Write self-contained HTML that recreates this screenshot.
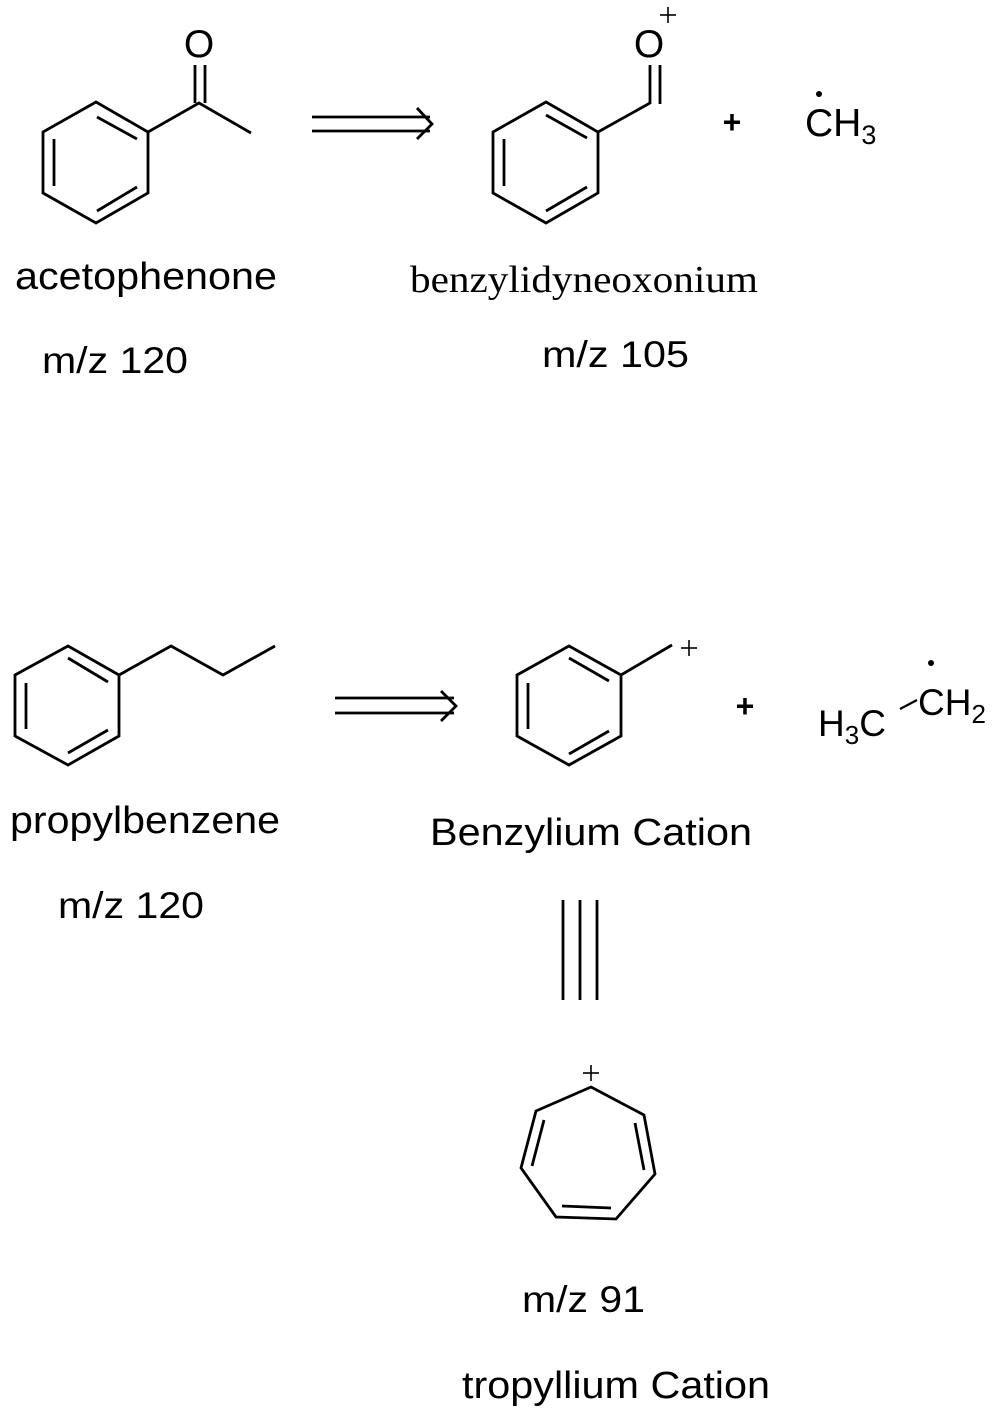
<!DOCTYPE html>
<html><head><meta charset="utf-8"><style>
html,body{margin:0;padding:0;background:#fff;}
svg{display:block;}
text{font-family:"Liberation Sans",Arial,sans-serif;fill:#000;}
</style></head><body>
<svg width="1004" height="1420" viewBox="0 0 1004 1420" xmlns="http://www.w3.org/2000/svg">
<g stroke="#000" stroke-width="2.8" fill="none" stroke-linejoin="miter" stroke-linecap="butt">
<polygon points="96,102 148,132 148,193 96,223 43,193 43,132"/>
<line x1="97" y1="117" x2="137" y2="139"/>
<line x1="54" y1="139" x2="54" y2="186"/>
<line x1="97" y1="211" x2="137" y2="187"/>
<polyline points="148,132 199,103 251,133"/>
<line x1="195" y1="65" x2="195" y2="103"/>
<line x1="205" y1="65" x2="205" y2="103"/>
<line x1="312" y1="117" x2="430" y2="117"/>
<line x1="312" y1="131" x2="430" y2="131"/>
<polyline points="417,108 432,124 417,139"/>
<polygon points="546,102 598,132 598,193 546,223 493,193 493,132"/>
<line x1="546" y1="115" x2="587" y2="138"/>
<line x1="504" y1="139" x2="504" y2="186"/>
<line x1="546" y1="211" x2="587" y2="187"/>
<line x1="598" y1="132" x2="650" y2="103"/>
<line x1="650" y1="65" x2="650" y2="104"/>
<line x1="660" y1="65" x2="660" y2="104"/>
<polygon points="68,646 119,675 119,736 68,765 15,736 15,675"/>
<line x1="68" y1="658" x2="108" y2="682"/>
<line x1="26" y1="683" x2="26" y2="729"/>
<line x1="68" y1="753" x2="108" y2="730"/>
<polyline points="119,675 171,646 223,675 275,646"/>
<line x1="335" y1="698" x2="454" y2="698"/>
<line x1="335" y1="713" x2="454" y2="713"/>
<polyline points="441,691 456,706 441,721"/>
<polygon points="569,646 621,675 621,736 569,765 517,736 517,675"/>
<line x1="569" y1="658" x2="609" y2="681"/>
<line x1="528" y1="683" x2="528" y2="729"/>
<line x1="569" y1="754" x2="609" y2="731"/>
<line x1="621" y1="675" x2="672" y2="645"/>
<line x1="900" y1="709" x2="917" y2="700" stroke-width="2.2"/>
<line x1="563" y1="900" x2="563" y2="1000"/>
<line x1="580" y1="900" x2="580" y2="1000"/>
<line x1="597" y1="900" x2="597" y2="1000"/>
<polygon points="591,1087 644,1115 655,1174 616,1219 556,1217 521,1168 536,1111"/>
<line x1="544" y1="1120" x2="532" y2="1166"/>
<line x1="635" y1="1123" x2="644" y2="1170"/>
<line x1="562" y1="1206" x2="611" y2="1208"/>
<g stroke-width="1.6">
<line x1="660" y1="15" x2="676" y2="15"/><line x1="668" y1="7" x2="668" y2="23"/>
<line x1="681" y1="648" x2="697" y2="648"/><line x1="689" y1="640" x2="689" y2="656"/>
<line x1="583" y1="1073" x2="599" y2="1073"/><line x1="591" y1="1065" x2="591" y2="1081"/>
</g>
</g>
<circle cx="819" cy="94" r="3"/>
<circle cx="931" cy="663" r="3"/>
<text x="199" y="57" font-size="39" text-anchor="middle">O</text>
<text x="649" y="57" font-size="39" text-anchor="middle">O</text>
<text x="732" y="133" font-size="32" font-weight="bold" text-anchor="middle">+</text>
<text x="805" y="136" font-size="39">CH<tspan font-size="27" dy="8">3</tspan></text>
<text x="745" y="717" font-size="32" font-weight="bold" text-anchor="middle">+</text>
<text x="818" y="736" font-size="37">H<tspan font-size="26" dy="8">3</tspan><tspan dy="-8">C</tspan></text>
<text x="918" y="715" font-size="37">CH<tspan font-size="26" dy="8">2</tspan></text>
<text x="15" y="289" font-size="38" textLength="262" lengthAdjust="spacingAndGlyphs">acetophenone</text>
<text x="410" y="292" font-size="38" textLength="348" lengthAdjust="spacingAndGlyphs" style="font-family:'Liberation Serif',serif">benzylidyneoxonium</text>
<text x="42" y="373" font-size="37" textLength="146" lengthAdjust="spacingAndGlyphs">m/z 120</text>
<text x="542" y="367" font-size="37" textLength="147" lengthAdjust="spacingAndGlyphs">m/z 105</text>
<text x="10" y="833" font-size="38" textLength="270" lengthAdjust="spacingAndGlyphs">propylbenzene</text>
<text x="430" y="845" font-size="38" textLength="322" lengthAdjust="spacingAndGlyphs">Benzylium Cation</text>
<text x="58" y="918" font-size="37" textLength="146" lengthAdjust="spacingAndGlyphs">m/z 120</text>
<text x="522" y="1312" font-size="37" textLength="123" lengthAdjust="spacingAndGlyphs">m/z 91</text>
<text x="462" y="1398" font-size="38" textLength="308" lengthAdjust="spacingAndGlyphs">tropyllium Cation</text>
</svg>
</body></html>
